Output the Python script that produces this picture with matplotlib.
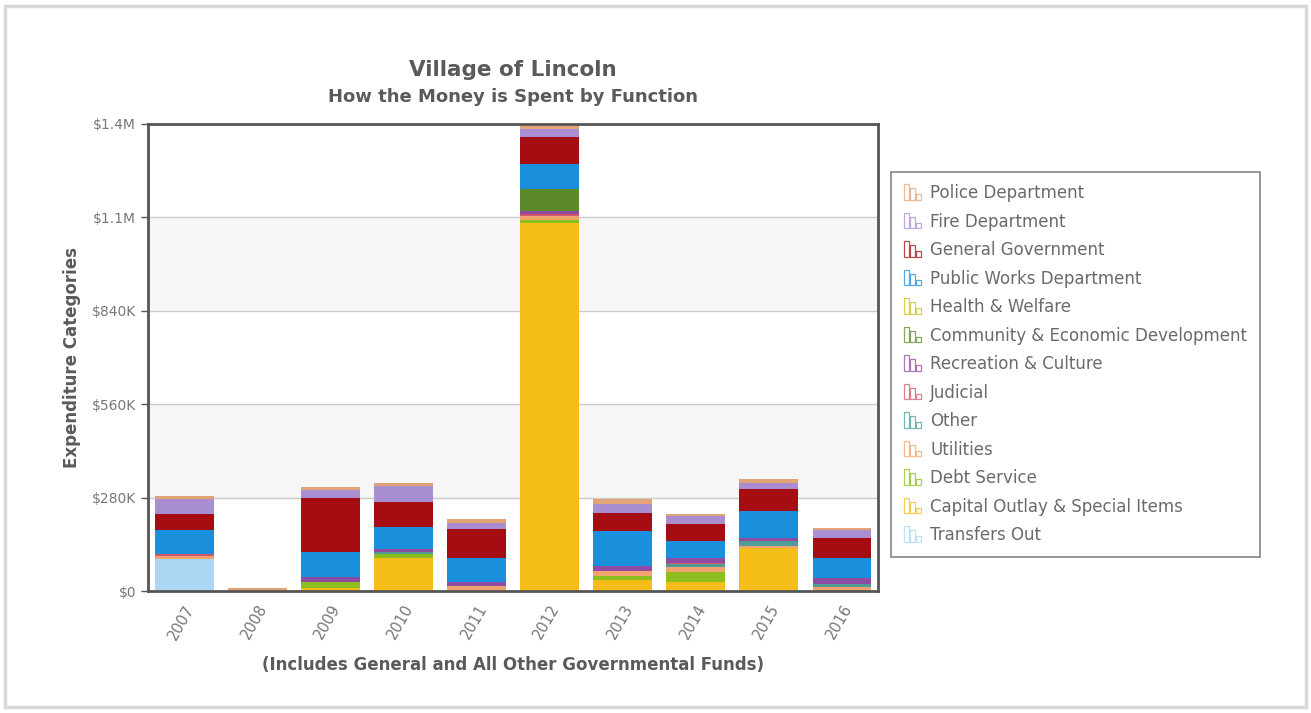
import numpy as np
import matplotlib
matplotlib.use("Agg")
import matplotlib.pyplot as plt
from matplotlib.patches import Rectangle
from matplotlib.legend_handler import HandlerBase

# Years on the x axis
years = ["2007", "2008", "2009", "2010", "2011", "2012", "2013", "2014", "2015", "2016"]

# Spending per function, in dollars
police = [8000, 8000, 7000, 8000, 13000, 15000, 15000, 7000, 10000, 8000]
fire = [45000, 0, 25000, 47000, 19000, 23000, 25000, 23000, 20000, 22000]
general_gov = [48000, 0, 161000, 76000, 85000, 80000, 55000, 52000, 65000, 62000]
public_works = [74000, 0, 75000, 67000, 73000, 77000, 105000, 52000, 80000, 60000]
health_welfare = [0, 0, 0, 0, 0, 0, 0, 0, 0, 0]
community_dev = [0, 0, 0, 0, 0, 65000, 0, 0, 0, 0]
recreation = [0, 0, 15000, 8000, 13000, 8000, 15000, 13000, 10000, 18000]
judicial = [5000, 0, 0, 0, 0, 7000, 0, 5000, 0, 0]
other = [0, 0, 0, 5000, 0, 0, 0, 8000, 15000, 8000]
utilities = [10000, 0, 0, 0, 14000, 12000, 15000, 15000, 5000, 12000]
debt_service = [0, 0, 20000, 14000, 0, 10000, 12000, 29000, 0, 0]
capital_outlay = [0, 0, 8000, 98000, 0, 1102000, 33000, 28000, 130000, 0]
transfers_out = [95000, 0, 0, 0, 0, 0, 0, 0, 0, 0]

# y tick values and their labels
tick_values = [0, 280000, 560000, 840000, 1120000, 1400000]
tick_labels = ["$0", "$280K", "$560K", "$840K", "$1.1M", "$1.4M"]

# Legend order (top of stack first)
series = [
    ("Police Department", police, "#e2a476"),
    ("Fire Department", fire, "#a98fd2"),
    ("General Government", general_gov, "#a50d12"),
    ("Public Works Department", public_works, "#1a8fdb"),
    ("Health & Welfare", health_welfare, "#c9c21c"),
    ("Community & Economic Development", community_dev, "#5c8a2b"),
    ("Recreation & Culture", recreation, "#8f4aa2"),
    ("Judicial", judicial, "#d2566e"),
    ("Other", other, "#4f9c97"),
    ("Utilities", utilities, "#f0a36e"),
    ("Debt Service", debt_service, "#8cbf1e"),
    ("Capital Outlay & Special Items", capital_outlay, "#f5bd17"),
    ("Transfers Out", transfers_out, "#acd7f4"),
]

text_color = "#5a5a5a"


class BarIconHandler(HandlerBase):
    """Draws the little three-bar outline icon used in the legend."""

    def create_artists(self, legend, orig_handle, xdescent, ydescent,
                       width, height, fontsize, trans):
        color = orig_handle.get_edgecolor()
        artists = []
        bar_w = width / 3.6
        heights = [1.0, 0.75, 0.35]
        for i, h in enumerate(heights):
            r = Rectangle((-xdescent + i * bar_w * 1.2, -ydescent), bar_w, height * h * 1.1,
                          facecolor="none", edgecolor=color, linewidth=0.9, alpha=0.75,
                          transform=trans)
            artists.append(r)
        return artists


fig = plt.figure(figsize=(13.11, 7.13), dpi=100)
fig.patch.set_facecolor("white")

# light card border around the whole picture
fig.patches.append(Rectangle((0.004, 0.008), 0.992, 0.984, transform=fig.transFigure,
                             facecolor="none", edgecolor="#d8d8d8", linewidth=2.5))

ax = fig.add_axes([0.1129, 0.1711, 0.557, 0.6552])

x = np.arange(len(years))

# alternating background bands
ax.axhspan(280000, 560000, color="#f6f6f6", zorder=0)
ax.axhspan(840000, 1120000, color="#f6f6f6", zorder=0)
for v in tick_values[1:-1]:
    ax.axhline(v, color="#cccccc", linewidth=1.0, zorder=1)

# stack from the bottom: last legend entry goes first
bottom = np.zeros(len(years))
for name, values, color in reversed(series):
    vals = np.array(values, dtype=float)
    ax.bar(x, vals, width=0.8, bottom=bottom, color=color, linewidth=0, zorder=2)
    bottom += vals

ax.set_xlim(-0.5, len(years) - 0.5)
ax.set_ylim(0, 1400000)
ax.set_yticks(tick_values)
ax.set_yticklabels(tick_labels, fontsize=10, color="#777777")
ax.set_xticks(x)
ax.set_xticklabels(years, rotation=60, ha="right", va="top", rotation_mode="anchor",
                   fontsize=10.5, color="#777777")
ax.tick_params(axis="x", length=0, pad=8)
ax.tick_params(axis="y", length=5, color="#555555", width=1)

for s in ax.spines.values():
    s.set_color("#555555")
    s.set_linewidth(2)

ax.set_ylabel("Expenditure Categories", fontsize=12, fontweight="bold",
              color=text_color, labelpad=8)
ax.set_xlabel("(Includes General and All Other Governmental Funds)", fontsize=12,
              fontweight="bold", color=text_color, labelpad=10)

fig.text(0.391, 0.902, "Village of Lincoln", ha="center", va="center",
         fontsize=15.5, fontweight="bold", color=text_color)
fig.text(0.391, 0.864, "How the Money is Spent by Function", ha="center", va="center",
         fontsize=13, fontweight="bold", color=text_color)

# legend with outline bar icons
handles = [Rectangle((0, 0), 1, 1, facecolor="none", edgecolor=c) for _, _, c in series]
labels = [n for n, _, _ in series]
leg = fig.legend(handles, labels, loc="upper left", bbox_to_anchor=(0.6797, 0.7588),
                 handler_map={Rectangle: BarIconHandler()}, fontsize=12,
                 frameon=True, fancybox=False, edgecolor="#666666",
                 handlelength=1.1, handleheight=0.9, handletextpad=0.5,
                 labelspacing=0.63, borderpad=0.75, borderaxespad=0)
leg.get_frame().set_linewidth(1.2)
for t in leg.get_texts():
    t.set_color("#6a6a6a")

fig.savefig("out.png", dpi=100)
